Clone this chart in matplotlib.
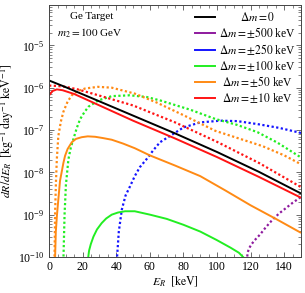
import numpy as np
import matplotlib
matplotlib.use('Agg')
import matplotlib.pyplot as plt
from matplotlib.ticker import FixedLocator, LogFormatterMathtext, MultipleLocator, NullFormatter

plt.rcParams['font.family'] = ['Liberation Serif', 'DejaVu Serif']
plt.rcParams['mathtext.fontset'] = 'stix'

# recoil spectra: E_R [keV] and log10(dR/dE_R)
E_zero = [0, 10, 25, 50, 75, 100, 125, 150]
lg_zero = [-5.83, -5.99, -6.24, -6.66, -7.08, -7.52, -7.99, -8.5]

E_p10 = [0, 2, 4.6, 8, 15, 25, 50, 75, 100, 125, 150]
lg_p10 = [-6.18, -6.08, -6.04, -6.06, -6.15, -6.33, -6.78, -7.20, -7.64, -8.11, -8.6]
E_m10 = [0, 5, 10, 17, 25, 50, 75, 100, 125, 150]
lg_m10 = [-5.95, -5.96, -5.98, -6.04, -6.13, -6.42, -6.82, -7.28, -7.78, -8.35]

E_p50 = [3.5, 4, 4.7, 5.5, 6.5, 8.5, 9.5, 11, 13.5, 16, 19.4, 23, 27.4, 32, 37.3, 44, 51,
         60, 75, 90, 105, 120, 135, 150]
lg_p50 = [-10.1, -9.4, -9.0, -8.64, -8.2, -7.78, -7.61, -7.45, -7.29, -7.21, -7.17, -7.15,
          -7.16, -7.19, -7.23, -7.32, -7.43, -7.6, -7.84, -8.09, -8.43, -8.78, -9.1, -9.43]
E_m50 = [3.2, 3.6, 4.1, 4.6, 5.5, 7, 8.5, 11, 13.5, 17, 21.4, 29, 37.3, 51, 64, 80, 99,
         113, 127, 140, 150]
lg_m50 = [-10.1, -8.9, -8.2, -7.69, -7.14, -6.8, -6.57, -6.33, -6.18, -6.08, -6.02, -5.98,
          -6.0, -6.14, -6.35, -6.65, -7.02, -7.2, -7.38, -7.6, -7.81]

E_p100 = [23, 23.8, 24.8, 26.4, 28.5, 31.3, 34, 37.3, 41, 45.2, 51, 60, 70, 80, 90, 99.8,
          108, 113, 116.7]
lg_p100 = [-10.1, -9.85, -9.7, -9.52, -9.35, -9.2, -9.09, -9.0, -8.95, -8.92, -8.92, -9.0,
           -9.1, -9.24, -9.4, -9.6, -9.78, -9.9, -10.05]
E_m100 = [8.5, 9.2, 10, 11.5, 13, 14.5, 16.5, 18.5, 21, 23.4, 29.3, 37.3, 48, 58, 66, 84,
          99, 112, 124, 136, 148, 150]
lg_m100 = [-10.1, -9.0, -8.3, -7.69, -7.4, -7.21, -6.95, -6.74, -6.58, -6.45, -6.30, -6.20,
           -6.18, -6.22, -6.30, -6.52, -6.74, -6.88, -7.05, -7.30, -7.6, -7.65]

E_m250 = [40.3, 41.5, 43.3, 45.5, 48.2, 51, 54, 58, 62, 66, 72, 80, 90, 102, 112, 124, 137, 150]
lg_m250 = [-10.1, -9.4, -8.88, -8.55, -8.33, -8.09, -7.88, -7.69, -7.48, -7.29, -7.14, -6.94,
           -6.82, -6.78, -6.79, -6.86, -6.95, -7.07]

E_m500 = [117.7, 118.2, 119, 120.5, 122.5, 125.6, 129, 133, 137, 141.5, 145, 150]
lg_m500 = [-10.1, -9.9, -9.8, -9.7, -9.6, -9.47, -9.3, -9.12, -8.97, -8.83, -8.72, -8.58]

y_ticks = [1e-10, 1e-9, 1e-8, 1e-7, 1e-6, 1e-5]

legend_labels = [r'$\Delta m = 0$', r'$\Delta m = \pm 500$ keV', r'$\Delta m = \pm 250$ keV',
                 r'$\Delta m = \pm 100$ keV', r'$\Delta m = \pm 50$ keV', r'$\Delta m = \pm 10$ keV']
legend_colors = ['black', '#8e1a9e', '#1414ff', '#22ee22', '#ff8a14', '#ff1414']

c_black, c_purple, c_blue, c_green, c_orange, c_red = legend_colors
dots = (0, (1.0, 1.1))

fig = plt.figure(figsize=(3.05, 2.93), dpi=100)
ax = fig.add_axes([0.161, 0.123, 0.826, 0.860])

def curve(E, lg, color, ls='-'):
    ax.plot(E, 10.0 ** np.array(lg), color=color, lw=1.6 if ls != '-' else 1.4, ls=ls,
            dash_capstyle='butt', solid_capstyle='butt')

curve(E_m500, lg_m500, c_purple, dots)
curve(E_m250, lg_m250, c_blue, dots)
curve(E_m100, lg_m100, c_green, dots)
curve(E_m50, lg_m50, c_orange, dots)
curve(E_m10, lg_m10, c_red, dots)
curve(E_p100, lg_p100, c_green)
curve(E_p50, lg_p50, c_orange)
curve(E_p10, lg_p10, c_red)
curve(E_zero, lg_zero, c_black)

ax.set_yscale('log')
ax.set_xlim(0, 150)
ax.set_ylim(1e-10, 9e-5)
ax.xaxis.set_major_locator(MultipleLocator(20))
ax.xaxis.set_minor_locator(MultipleLocator(5))
ax.yaxis.set_major_locator(FixedLocator(y_ticks))
ax.yaxis.set_major_formatter(LogFormatterMathtext())
minor = [m * t for t in y_ticks + [1e-4] for m in range(2, 10) if m * t < 9e-5]
ax.yaxis.set_minor_locator(FixedLocator(minor))
ax.yaxis.set_minor_formatter(NullFormatter())
ax.tick_params(which='both', direction='in', top=True, right=True, labelsize=8.5, color='#555555')
ax.tick_params(which='major', length=3.5, width=0.6)
ax.tick_params(which='minor', length=2, width=0.5)
ax.tick_params(axis='x', pad=3)
for s in ax.spines.values():
    s.set_linewidth(0.7)
    s.set_color('#444444')

ax.set_xlabel(r'$E_R\ \ [\mathrm{keV}]$', fontsize=8.5, labelpad=1)
ax.set_ylabel(r'$dR/dE_R\ \ [\mathrm{kg}^{-1}\ \mathrm{day}^{-1}\ \mathrm{keV}^{-1}]$',
              fontsize=8.5, labelpad=1)

ax.text(0.167, 0.956, 'Ge Target', transform=ax.transAxes, ha='center', va='center', fontsize=8)
ax.text(0.163, 0.889, r'$m_2 = 100$ GeV', transform=ax.transAxes, ha='center', va='center',
        fontsize=8)

# legend drawn by hand so the labels stay centred
row_y = [0.952, 0.889, 0.821, 0.758, 0.694, 0.631]
for label, color, y in zip(legend_labels, legend_colors, row_y):
    ax.plot([0.58, 0.66], [y, y], color=color, lw=1.4, transform=ax.transAxes)
    ax.text(0.827, y, label, transform=ax.transAxes, ha='center', va='center', fontsize=8.3)

fig.savefig('out.png', dpi=100)
